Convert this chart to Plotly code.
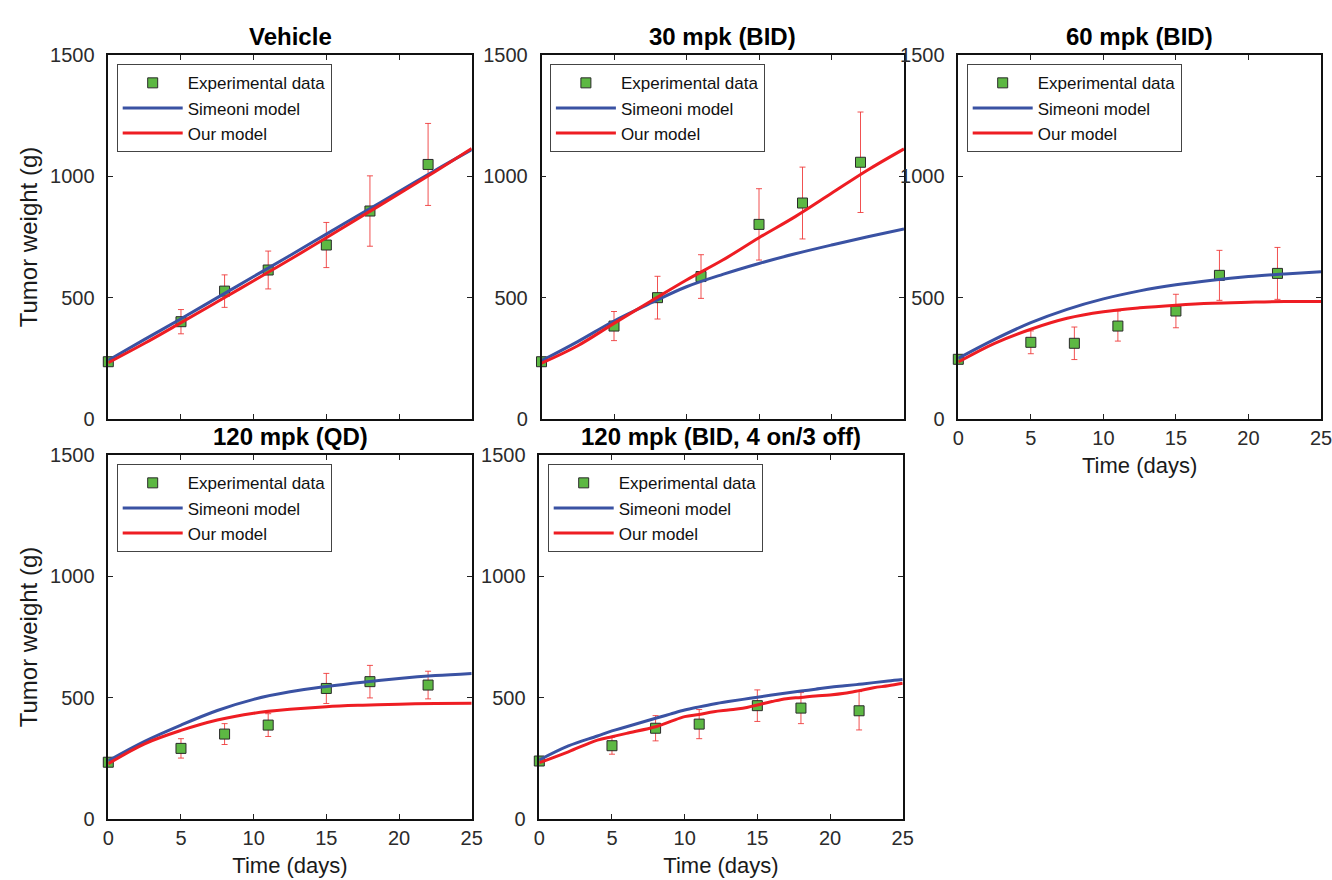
import plotly.graph_objects as go

# ---------------- data ----------------
panel_titles = ["Vehicle", "30 mpk (BID)", "60 mpk (BID)", "120 mpk (QD)", "120 mpk (BID, 4 on/3 off)"]
days = [0, 5, 8, 11, 15, 18, 22]

vehicle_data = [236, 401, 527, 614, 717, 857, 1049]
vehicle_err = [0, 50, 67, 78, 93, 145, 169]
bid30_data = [236, 383, 500, 587, 802, 890, 1058]
bid30_err = [0, 60, 88, 90, 147, 148, 207]
bid60_data = [246, 316, 312, 383, 445, 592, 600]
bid60_err = [0, 47, 67, 62, 69, 103, 107]
qd120_data = [234, 291, 350, 387, 538, 566, 552]
qd120_err = [0, 40, 43, 47, 62, 67, 57]
bid120_data = [239, 302, 374, 391, 467, 457, 446]
bid120_err = [0, 35, 52, 60, 65, 64, 79]

model_t = [0, 2.5, 5, 7.5, 10, 12.5, 15, 17.5, 20, 22.5, 25]
vehicle_simeoni = [242, 328, 413, 500, 587, 674, 762, 850, 937, 1025, 1110]
vehicle_ours = [232, 312, 397, 483, 570, 657, 747, 838, 928, 1020, 1115]
bid30_simeoni = [240, 319, 404, 477, 545, 596, 641, 681, 717, 751, 783]
bid30_ours = [230, 302, 394, 484, 573, 655, 747, 834, 930, 1026, 1113]
bid60_simeoni = [250, 328, 397, 452, 495, 528, 553, 572, 587, 598, 607]
bid60_ours = [235, 312, 370, 415, 442, 458, 469, 477, 481, 484, 484]
qd120_simeoni = [240, 320, 387, 447, 493, 524, 546, 564, 579, 591, 600]
qd120_ours = [228, 310, 365, 408, 436, 452, 463, 469, 473, 476, 477]

bid120_t = [0, 2, 4, 5, 6, 8, 9, 10, 11, 12, 13, 14, 15, 16, 17, 18, 19, 20, 21, 22, 23, 24, 25]
bid120_simeoni = [243, 301, 342, 363, 380, 415, 432, 449, 462, 474, 484, 493, 502, 511, 519, 527, 535, 543, 549, 555, 562, 569, 575]
bid120_ours = [232, 277, 325, 339, 353, 380, 401, 422, 431, 442, 449, 456, 470, 484, 496, 501, 507, 511, 518, 529, 541, 549, 559]

panel_data = [vehicle_data, bid30_data, bid60_data, qd120_data, bid120_data]
panel_err = [vehicle_err, bid30_err, bid60_err, qd120_err, bid120_err]
panel_model_t = [model_t, model_t, model_t, model_t, bid120_t]
panel_simeoni = [vehicle_simeoni, bid30_simeoni, bid60_simeoni, qd120_simeoni, bid120_simeoni]
panel_ours = [vehicle_ours, bid30_ours, bid60_ours, qd120_ours, bid120_ours]

x_ticks = [0, 5, 10, 15, 20, 25]
y_ticks = [0, 500, 1000, 1500]

# ---------------- style ----------------
W, H = 1332, 880
BLUE = "#3a52a3"
RED = "#ee1d23"
GREEN = "#5db843"
SANS = "Liberation Sans, Arial, sans-serif"

# plot boxes in pixels: (left, right, top, bottom)
boxes = [
    (108.3, 471.7, 55, 419),
    (541.5, 904.0, 55, 419),
    (958.3, 1321.0, 55, 419),
    (108.3, 471.7, 455, 819),
    (539.3, 902.7, 455, 819),
]
show_xlabels = [False, False, True, True, True]
show_ytitle = [True, False, False, True, False]

fig = go.Figure()
layout = dict(
    width=W, height=H,
    margin=dict(l=0, r=0, t=0, b=0),
    paper_bgcolor="white", plot_bgcolor="white",
    showlegend=True,
    annotations=[],
)

for i in range(5):
    n = i + 1
    xa = "x" if n == 1 else f"x{n}"
    ya = "y" if n == 1 else f"y{n}"
    lg = "legend" if n == 1 else f"legend{n}"
    left, right, top, bottom = boxes[i]

    fig.add_trace(go.Scatter(
        x=days, y=panel_data[i], mode="markers", name="Experimental data",
        marker=dict(symbol="square", size=10, color=GREEN, line=dict(color="#2a2a2a", width=1)),
        error_y=dict(type="data", array=panel_err[i], visible=True, color="rgba(238,50,50,0.85)",
                     thickness=1, width=3),
        xaxis=xa, yaxis=ya, legend=lg, cliponaxis=False,
    ))
    fig.add_trace(go.Scatter(
        x=panel_model_t[i], y=panel_simeoni[i], mode="lines", name="Simeoni model",
        line=dict(color=BLUE, width=3, shape="spline", smoothing=1.0),
        xaxis=xa, yaxis=ya, legend=lg,
    ))
    fig.add_trace(go.Scatter(
        x=panel_model_t[i], y=panel_ours[i], mode="lines", name="Our model",
        line=dict(color=RED, width=3, shape="spline", smoothing=1.0),
        xaxis=xa, yaxis=ya, legend=lg,
    ))

    xkey = "xaxis" if n == 1 else f"xaxis{n}"
    ykey = "yaxis" if n == 1 else f"yaxis{n}"
    layout[xkey] = dict(
        domain=[left / W, right / W], anchor=ya, range=[0, 25],
        tickvals=x_ticks, showticklabels=show_xlabels[i],
        ticks="inside", ticklen=5, tickwidth=1, tickcolor="#222",
        showline=True, linecolor="#111", linewidth=1.5, mirror="ticks",
        showgrid=False, zeroline=False, automargin=False,
        tickfont=dict(family=SANS, size=20, color="#2b2b2b"),
        ticklabelstandoff=0, ticklabeloverflow="allow",
        title=dict(text="Time (days)" if show_xlabels[i] else "",
                   font=dict(family=SANS, size=22, color="#1a1a1a"), standoff=10),
    )
    layout[ykey] = dict(
        domain=[1 - bottom / H, 1 - top / H], anchor=xa, range=[0, 1500],
        tickvals=y_ticks,
        ticks="inside", ticklen=5, tickwidth=1, tickcolor="#222",
        showline=True, linecolor="#111", linewidth=1.5, mirror="ticks",
        showgrid=False, zeroline=False, automargin=False,
        tickfont=dict(family=SANS, size=20, color="#2b2b2b"),
        ticklabelstandoff=8, ticklabeloverflow="allow",
        title=dict(text="Tumor weight (g)" if show_ytitle[i] else "",
                   font=dict(family=SANS, size=24, color="#1a1a1a"), standoff=6),
    )
    layout[lg] = dict(
        x=(left + 8.4) / W, y=1 - (top + 9.3) / H, xanchor="left", yanchor="top",
        xref="paper", yref="paper",
        bgcolor="white", bordercolor="#444", borderwidth=1,
        font=dict(family=SANS, size=17, color="#111"),
        itemwidth=60, tracegroupgap=0,
    )
    layout["annotations"].append(dict(
        text=f"<b>{panel_titles[i]}</b>", showarrow=False,
        xref=f"{xa} domain", yref=f"{ya} domain", x=0.5, y=1,
        xanchor="center", yanchor="bottom", yshift=3,
        font=dict(family=SANS, size=24, color="black"),
    ))

fig.update_layout(**layout)
fig.write_html("out.html")
